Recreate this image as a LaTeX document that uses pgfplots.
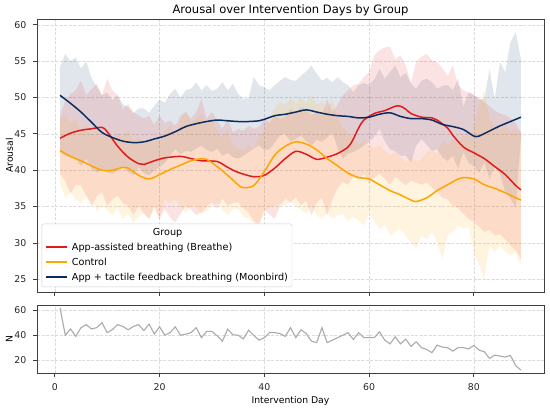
\documentclass[border=0pt]{standalone}
\usepackage{fontspec}
\setmainfont{DejaVu Sans}
\usepackage{pgfplots}
\pgfplotsset{compat=1.18}
\usepackage{pgfplotstable}
\usepgfplotslibrary{fillbetween}

\definecolor{cRed}{HTML}{E31A1C}
\definecolor{cOrg}{HTML}{FFA500}
\definecolor{cNav}{HTML}{0B2C5F}
\definecolor{cN}{HTML}{AAAAAA}

% ---------- mean lines ----------
\pgfplotstableread{
d v
1 44.4
3 45.1
5 45.5
7 45.7
9 45.9
10 45.3
12 43.3
14 41.8
16 40.9
17 40.8
19 41.3
21 41.7
24 41.9
26 41.6
28 41.3
31 41.2
33 40.4
35 39.7
38 39.1
40 39.3
42 40.3
44 41.6
46 42.6
48 42.2
50 41.5
52 41.8
54 42.3
56 43.2
57 44.3
58 45.8
59 46.9
61 47.8
63 48.2
65 48.8
66 48.8
67 48.4
68 47.8
70 47.3
72 47.2
73 46.9
75 45.8
76 44.8
78 43.2
80 42.4
82 41.6
84 40.5
86 39.4
88 37.9
89 37.3
}\lineRed

\pgfplotstableread{
d v
1 42.7
3 41.9
5 41.3
7 40.6
9 40.0
11 40.0
13 40.4
14 40.3
16 39.3
18 38.8
20 39.4
22 40.1
24 40.7
26 41.3
28 41.6
29 41.5
31 40.5
33 39.3
35 38.0
36 37.6
38 37.9
40 39.8
42 42.1
44 43.3
46 43.9
48 43.6
50 42.8
52 41.6
54 40.6
56 39.6
58 39.0
60 38.8
62 38.0
64 37.2
66 36.6
68 35.9
69 35.7
71 36.2
73 37.2
75 38.0
77 38.8
78 39.0
80 38.8
82 38.0
84 37.5
86 36.9
88 36.2
89 35.9
}\lineOrg

\pgfplotstableread{
d v
1 50.3
3 49.2
5 48.0
7 46.6
9 45.2
11 44.5
13 44.0
15 43.8
17 43.9
19 44.3
21 44.7
23 45.3
25 46.0
27 46.4
29 46.7
31 46.9
33 46.8
35 46.7
37 46.7
39 46.8
40 47.0
42 47.5
44 47.7
46 48.0
48 48.3
50 48.0
52 47.7
54 47.5
56 47.4
58 47.2
60 47.3
62 47.7
64 47.9
66 47.4
68 47.1
70 47.1
72 46.9
74 46.3
76 46.0
78 45.6
80 44.7
81 44.7
83 45.4
85 46.1
87 46.7
89 47.3
}\lineNav

% ---------- bands: d lo hi ----------
\pgfplotstableread{
d lo hi
1 39.5 47.5
2 38.5 49.6
3 36.8 50.5
4 38.0 51.0
5 37.9 52.3
6 36.5 50.3
7 35.1 51.2
8 36.4 51.9
9 37.0 50.3
10 35.1 52.6
11 36.0 51.0
12 36.5 50.3
13 35.5 48.4
14 35.1 49.1
15 33.8 48.0
16 35.1 47.5
17 34.0 47.1
18 33.3 47.5
19 35.1 46.2
20 33.3 47.5
21 34.7 46.5
22 33.5 46.8
23 32.8 46.1
24 34.0 47.5
25 35.1 48.0
26 34.6 47.1
27 33.8 48.0
28 34.2 49.8
29 35.0 47.1
30 35.6 48.0
31 34.7 46.8
32 36.1 45.7
33 35.1 47.1
34 35.5 45.2
35 35.6 45.7
36 34.8 45.4
37 34.2 46.1
38 33.0 45.7
39 32.4 46.0
40 34.7 47.1
41 33.9 46.5
42 33.3 47.5
43 35.0 47.1
44 36.1 47.3
45 35.5 48.4
46 36.3 47.8
47 35.2 48.7
48 35.8 48.2
49 33.8 47.6
50 35.5 48.0
51 36.2 47.5
52 33.8 49.8
53 36.0 48.0
54 37.5 49.0
55 38.4 50.3
56 38.0 51.0
57 39.2 51.7
58 38.6 51.9
59 39.5 52.8
60 38.2 53.5
61 39.0 55.8
62 39.6 56.5
63 38.8 56.9
64 38.0 57.0
65 39.1 55.3
66 38.5 55.8
67 37.9 54.4
68 38.6 52.1
69 38.3 54.9
70 38.0 55.6
71 38.3 56.0
72 37.6 55.1
73 37.0 54.9
74 36.2 54.0
75 36.0 53.0
76 35.1 54.4
77 34.8 51.7
78 34.0 51.0
79 33.3 50.7
80 32.9 50.5
81 32.2 49.8
82 31.5 49.4
83 31.8 48.8
84 31.0 48.2
85 31.2 47.8
86 30.5 47.6
87 29.6 47.1
88 29.0 46.5
89 27.8 45.2
}\bandRed

\pgfplotstableread{
d lo hi
1 38.3 47.0
2 36.1 47.5
3 37.0 46.5
4 36.0 47.0
5 35.4 45.5
6 36.5 46.3
7 35.5 45.0
8 34.4 45.8
9 35.1 44.5
10 34.5 45.0
11 33.8 44.0
12 34.9 45.2
13 33.3 44.6
14 34.0 45.5
15 32.8 44.0
16 33.5 44.6
17 34.2 43.5
18 33.3 44.2
19 34.7 43.8
20 33.3 44.8
21 36.1 45.0
22 35.4 46.2
23 36.1 44.8
24 35.0 46.8
25 34.2 48.0
26 35.0 46.5
27 35.1 47.0
28 34.0 47.8
29 34.4 46.2
30 35.0 46.8
31 35.6 45.5
32 34.5 44.6
33 33.8 45.5
34 34.7 43.5
35 34.7 43.0
36 33.5 42.6
37 33.3 43.5
38 32.8 43.0
39 32.8 44.5
40 34.0 45.5
41 35.1 47.0
42 35.0 48.5
43 35.4 49.4
44 35.1 49.0
45 35.8 49.8
46 35.0 49.3
47 34.6 50.0
48 34.0 49.2
49 35.0 50.3
50 33.8 49.0
51 33.3 49.4
52 34.2 48.5
53 33.3 49.8
54 33.8 47.0
55 34.0 46.0
56 33.0 45.0
57 33.6 44.3
58 33.0 43.5
59 32.4 44.2
60 34.2 43.4
61 33.0 43.0
62 31.9 43.5
63 32.5 42.6
64 31.0 42.0
65 31.5 42.5
66 31.9 41.8
67 31.0 41.0
68 30.1 42.0
69 29.2 41.2
70 31.0 41.5
71 30.5 42.5
72 31.5 43.0
73 30.0 42.3
74 27.8 44.0
75 31.0 43.5
76 31.5 44.2
77 32.4 43.5
78 32.0 45.0
79 32.2 44.5
80 28.7 45.8
81 27.0 49.0
82 25.0 51.0
83 29.6 47.0
84 28.7 46.0
85 29.6 45.5
86 28.8 46.5
87 28.3 45.2
88 28.7 45.8
89 26.9 45.0
}\bandOrg

\pgfplotstableread{
d lo hi
1 42.5 54.2
2 42.0 56.0
3 41.8 55.0
4 41.5 55.5
5 40.6 54.0
6 41.6 55.0
7 40.2 52.7
8 39.7 51.5
9 40.0 50.3
10 39.7 50.7
11 39.5 49.6
12 40.0 50.3
13 40.6 49.1
14 39.8 48.7
15 39.3 47.8
16 40.4 48.5
17 39.6 48.5
18 39.3 47.9
19 40.0 48.9
20 40.4 49.7
21 41.0 49.3
22 42.0 50.5
23 42.9 51.2
24 42.2 50.0
25 42.7 51.0
26 42.5 51.2
27 43.0 52.1
28 43.4 51.0
29 42.8 51.7
30 42.5 50.9
31 43.0 51.2
32 42.0 52.1
33 42.4 51.0
34 41.8 51.9
35 41.6 50.5
36 42.0 49.8
37 42.5 50.0
38 43.0 52.8
39 43.4 51.7
40 42.8 51.4
41 42.9 51.0
42 43.8 51.7
43 44.8 52.3
44 45.0 52.8
45 43.9 52.4
46 44.3 52.3
47 44.8 53.0
48 44.0 53.6
49 43.4 54.4
50 44.2 53.3
51 43.9 52.3
52 44.5 52.7
53 45.2 52.1
54 43.0 52.8
55 41.6 52.1
56 42.3 51.7
57 42.5 50.7
58 42.9 51.7
59 43.4 52.0
60 43.9 51.7
61 44.6 52.5
62 45.7 53.9
63 44.0 52.6
64 42.9 53.5
65 42.6 54.4
66 42.0 52.8
67 42.0 53.4
68 41.1 51.9
69 43.4 51.2
70 44.3 52.3
71 43.5 52.6
72 42.7 52.1
73 42.9 51.2
74 41.8 51.6
75 41.3 51.7
76 42.0 51.0
77 40.2 52.6
78 42.5 48.7
79 41.0 50.7
80 40.6 50.3
81 39.7 49.8
82 41.1 49.8
83 38.8 53.9
84 40.6 49.8
85 39.5 54.9
86 37.0 53.5
87 36.1 57.6
88 34.9 59.0
89 44.5 55.3
}\bandNav

% ---------- N per day ----------
\pgfplotstableread{
d n
1 62
2 40
3 45
4 39
5 46
6 48.5
7 45
8 46
9 50
10 42
11 44.5
12 48.5
13 47
14 44.3
15 47
16 48.5
17 43.7
18 48.8
19 41
20 46.7
21 40
22 42
23 46.7
24 40
25 40.8
26 42
27 46
28 38
29 43
30 43
31 39.5
32 35.2
33 44.8
34 40.3
35 40
36 37
37 44
38 39.7
39 36
40 38
41 42
42 42
43 41.3
44 39
45 46
46 38
47 44.3
48 41.3
49 35.2
50 34
51 46
52 34
56 42
57 36.5
58 42
59 38
60 38
61 38
62 42.7
63 36
64 33
65 38.7
66 33
67 36.8
68 31
69 34.7
70 30
71 28.5
72 26
73 32
74 30.4
75 30
76 27.2
77 30
78 30
79 29
80 31.7
81 28
82 26.7
83 21.3
84 24
85 23.2
86 22.4
87 23.7
88 15.5
89 12
}\tabN

\pgfplotsset{
  myaxis/.style={
    scale only axis, width=507bp,
    xmin=-3.4, xmax=93.4,
    axis line style={black!75, line width=0.9bp},
    every tick/.style={black!75, line width=0.8bp},
    tick align=outside, major tick length=3.5bp,
    tick pos=left,
    grid=major,
    major grid style={black!14, dash pattern=on 3bp off 1.5bp, line width=0.6bp},
    xtick={0,20,40,60,80},
    ticklabel style={font=\fontsize{9.4}{11}\selectfont, text=black!85},
    /pgf/number format/assume math mode=true,
    label style={font=\fontsize{9.3}{11}\selectfont},
    ylabel style={at={(axis description cs:-0.0546,0.5)}, anchor=center},
    yticklabel style={anchor=east, inner sep=0pt, xshift=-7bp},
    xticklabel style={anchor=north, inner sep=0pt, yshift=-6.5bp},
  }
}
\newcommand{\lsample}[1]{\textcolor{#1}{\rule[2.9bp]{21bp}{1.5bp}}\hspace*{5bp}}

\begin{document}
\begin{tikzpicture}
\begin{axis}[myaxis,
  at={(0,0)}, anchor=north west,
  height=273bp,
  ymin=23.25, ymax=60.8,
  ytick={25,30,35,40,45,50,55,60},
  xticklabels={},
  ylabel={Arousal},
  title={Arousal over Intervention Days by Group},
  title style={at={(axis description cs:0.5,1)}, anchor=base, yshift=-0.3bp,
    font=\fontsize{11.6}{14}\selectfont},
  legend style={at={(axis description cs:0.0093,0.018)}, anchor=south west,
    draw=black!20, rounded corners=2bp, fill=white,
    font=\fontsize{9.7}{11}\selectfont,
    row sep=2.3bp, inner xsep=2bp, inner ysep=2.5bp},
  legend cell align=left,
  legend image code/.code={},
]
\addlegendimage{}
\addlegendentry{\hspace*{107bp}Group}
\addlegendimage{}
\addlegendentry{\lsample{cRed}App-assisted breathing (Breathe)}
\addlegendimage{}
\addlegendentry{\lsample{cOrg}Control}
\addlegendimage{}
\addlegendentry{\lsample{cNav}App + tactile feedback breathing (Moonbird)}

% bands
\addplot[draw=none, forget plot, name path=nh] table[x=d, y=hi] {\bandNav};
\addplot[draw=none, forget plot, name path=nl] table[x=d, y=lo] {\bandNav};
\addplot[fill=cNav, fill opacity=0.12, draw=none, forget plot] fill between[of=nh and nl];
\addplot[draw=none, forget plot, name path=rh] table[x=d, y=hi] {\bandRed};
\addplot[draw=none, forget plot, name path=rl] table[x=d, y=lo] {\bandRed};
\addplot[fill=cRed, fill opacity=0.12, draw=none, forget plot] fill between[of=rh and rl];
\addplot[draw=none, forget plot, name path=oh] table[x=d, y=hi] {\bandOrg};
\addplot[draw=none, forget plot, name path=ol] table[x=d, y=lo] {\bandOrg};
\addplot[fill=cOrg, fill opacity=0.12, draw=none, forget plot] fill between[of=oh and ol];

\addplot[cRed, line width=1.5bp, smooth, tension=0.5, no markers, forget plot] table[x=d, y=v] {\lineRed};
\addplot[cOrg, line width=1.5bp, smooth, tension=0.5, no markers, forget plot] table[x=d, y=v] {\lineOrg};
\addplot[cNav, line width=1.5bp, smooth, tension=0.5, no markers, forget plot] table[x=d, y=v] {\lineNav};
\end{axis}

\begin{axis}[myaxis,
  at={(0,-286bp)}, anchor=north west,
  height=68.3bp,
  ymin=9.4, ymax=64.2,
  ytick={20,40,60},
  ylabel={N},
  xlabel={Intervention Day},
  xlabel style={at={(axis description cs:0.5,-0.435)}, anchor=base},
]
\addplot[cN, line width=1.1bp, no markers] table[x=d, y=n] {\tabN};
\end{axis}
\pgfresetboundingbox
\path (-37bp,19bp) rectangle (513bp,-389bp);
\end{tikzpicture}
\end{document}
